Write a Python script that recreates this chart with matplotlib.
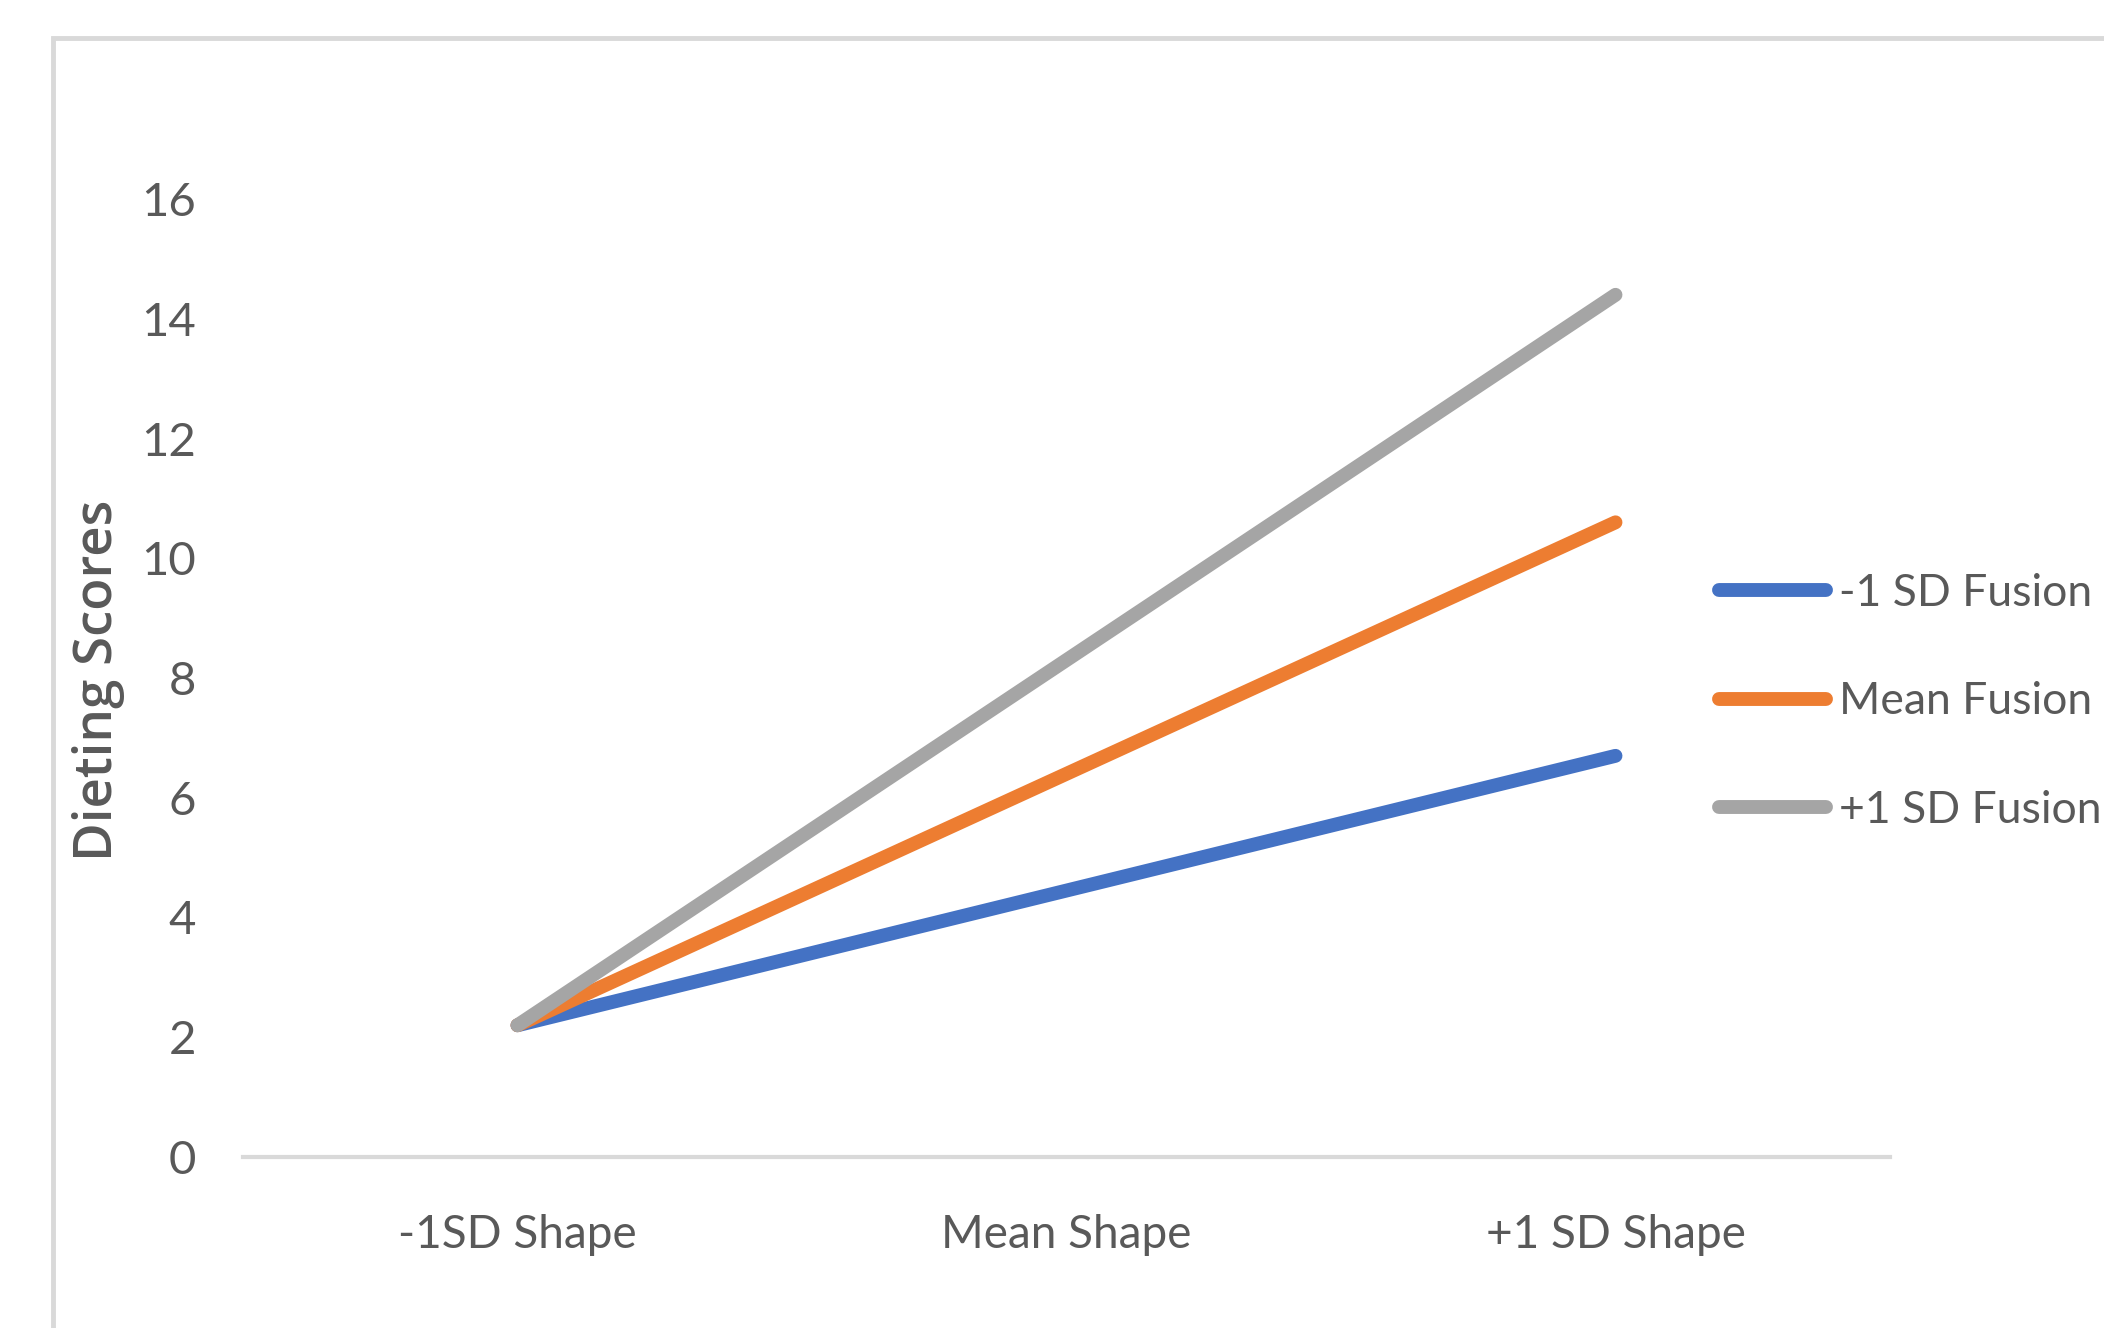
import matplotlib
matplotlib.use("Agg")
import matplotlib.pyplot as plt
from matplotlib.patches import Rectangle

# Data
categories = ["-1SD Shape", "Mean Shape", "+1 SD Shape"]
series_names = ["-1 SD Fusion", "Mean Fusion", "+1 SD Fusion"]
low_fusion = [2.2, 4.45, 6.7]
mean_fusion = [2.2, 6.4, 10.6]
high_fusion = [2.2, 8.3, 14.4]
y_ticks = [0, 2, 4, 6, 8, 10, 12, 14, 16]

colors = ["#4472C4", "#ED7D31", "#A5A5A5"]
text_color = "#595959"
grid_color = "#D9D9D9"

plt.rcParams["font.family"] = ["Lato", "DejaVu Sans"]

W, H = 2104, 1328
fig = plt.figure(figsize=(W / 100, H / 100), dpi=100)
fig.patch.set_facecolor("white")

# Chart-area border (runs off the right and bottom edges)
fig.patches.append(Rectangle((53 / W, -0.05), 1.2, 1 - 38 / H + 0.05,
                             transform=fig.transFigure, fill=False,
                             edgecolor=grid_color, linewidth=3.5, zorder=0))

left, right = 243 / W, 1890 / W
bottom, top = 1 - 1157 / H, 1 - 199 / H
ax = fig.add_axes([left, bottom, right - left, top - bottom])

x = range(len(categories))
for vals, name, c in zip([low_fusion, mean_fusion, high_fusion], series_names, colors):
    ax.plot(x, vals, color=c, linewidth=10, solid_capstyle="round",
            solid_joinstyle="round", label=name, zorder=3)

ax.set_xlim(-0.5, len(categories) - 0.5)
ax.set_ylim(0, 16)
ax.set_yticks(y_ticks)
ax.set_xticks(list(x))
ax.set_xticklabels(categories)

for s in ["top", "right", "left"]:
    ax.spines[s].set_visible(False)
ax.spines["bottom"].set_color(grid_color)
ax.spines["bottom"].set_linewidth(3)
ax.spines["bottom"].set_zorder(1)

ax.tick_params(axis="both", length=0, labelcolor=text_color)
ax.tick_params(axis="y", pad=34, labelsize=34)
ax.tick_params(axis="x", pad=41, labelsize=33)

ax.set_ylabel("Dieting Scores", fontsize=38, color=text_color,
              fontweight="semibold", family=["Open Sans", "DejaVu Sans"])
ax.yaxis.set_label_coords(125 / W, 1 - 680 / H, transform=fig.transFigure)

leg = ax.legend(loc="center left", bbox_to_anchor=(1719 / W, 1 - 702 / H),
                bbox_transform=fig.transFigure, frameon=False, fontsize=32,
                handlelength=2.4, handletextpad=0.29, labelspacing=1.52,
                borderpad=0, borderaxespad=0)
for t in leg.get_texts():
    t.set_color(text_color)

fig.savefig("out.png", dpi=100)
